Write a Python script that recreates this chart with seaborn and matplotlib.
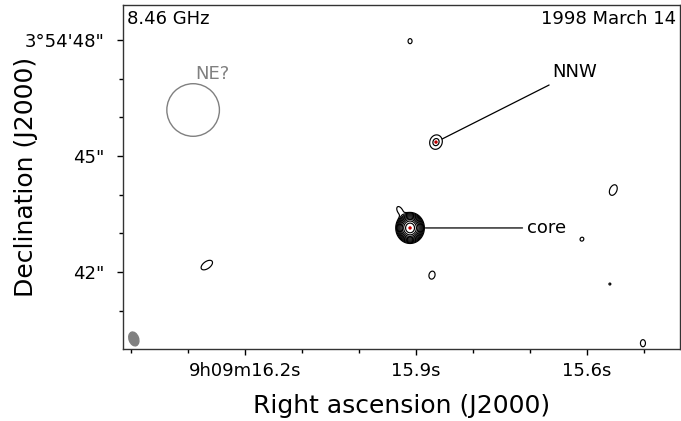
import numpy as np
import matplotlib
matplotlib.use("Agg")
import matplotlib.pyplot as plt
from matplotlib.patches import Ellipse
import seaborn as sns

# map components: RA seconds after 9h09m, Dec arcsec after 3d54m
comp_ra = [15.9105, 15.928, 15.865, 15.9105, 15.554, 15.609, 15.560, 15.502, 15.872, 16.267]
comp_dec = [43.14, 43.58, 45.36, 47.97, 44.12, 42.85, 41.69, 40.16, 41.92, 42.18]
comp_peak = [1000, 1.5, 2.5, 1.15, 1.3, 1.15, 1.05, 1.2, 1.25, 1.3]
comp_smaj = [0.108, 0.14, 0.14, 0.124, 0.20, 0.10, 0.085, 0.152, 0.157, 0.236]
comp_smin = [0.101, 0.075, 0.12, 0.10, 0.127, 0.09, 0.085, 0.109, 0.118, 0.127]
comp_pa = [0, 31, -20, 0, -25, -40, 0, 0, -15, -55]
levels = [1, 2, 4, 8, 16, 32, 64, 128, 256, 512]

# peaks marked in red
peak_ra = [15.9105, 15.865]
peak_dec = [43.14, 45.36]

# restoring beam and the NE? region
beam = dict(ra=16.395, dec=40.27, major=0.37, minor=0.25, pa=-20)
ne_ra, ne_dec, ne_radius = 16.291, 46.19, 0.68

ra_ticks = [16.2, 15.9, 15.6]
ra_labels = ["9h09m16.2s", "15.9s", "15.6s"]
dec_ticks = [48, 45, 42]
dec_labels = ["3°54'48\"", "45\"", "42\""]

RA0 = 15.9
SCALE = 15 * np.cos(np.radians(3 + 54 / 60))


def to_x(ra):
    return (np.asarray(ra) - RA0) * SCALE


sns.set_theme(style="ticks")
plt.rcParams["font.family"] = ["DejaVu Sans"]
plt.rcParams.update({"text.color": "black", "axes.labelcolor": "black",
                     "xtick.color": "black", "ytick.color": "black"})

fig = plt.figure(figsize=(6.81, 4.21), dpi=100)
ax = fig.add_axes([123 / 681, 72 / 421, 557 / 681, 344 / 421])

# build the map from the components
xs = np.linspace(to_x(16.414), to_x(15.437), 1000)
ys = np.linspace(40.01, 48.905, 620)
X, Y = np.meshgrid(xs, ys)
img = np.zeros_like(X)
for ra, dec, pk, a, b, pa in zip(comp_ra, comp_dec, comp_peak, comp_smaj, comp_smin, comp_pa):
    dx = X - to_x(ra)
    dy = Y - dec
    t = np.radians(pa)
    u = dx * np.sin(t) + dy * np.cos(t)
    v = dx * np.cos(t) - dy * np.sin(t)
    img += pk * np.exp(-0.5 * ((u / a) ** 2 + (v / b) ** 2))

ax.contour(X, Y, img, levels=levels, colors="black", linewidths=0.85)

sns.scatterplot(x=to_x(peak_ra), y=peak_dec, color="#c00000", s=6,
                edgecolor="none", ax=ax, zorder=5)

# beam
ax.add_patch(Ellipse((to_x(beam["ra"]), beam["dec"]), beam["minor"], beam["major"],
                     angle=beam["pa"], facecolor="gray", edgecolor="gray"))
# NE? circle
ax.add_patch(Ellipse((to_x(ne_ra), ne_dec), 2 * ne_radius * 38.67 / 38.1, 2 * ne_radius,
                     facecolor="none", edgecolor="gray", lw=1))
ax.text(to_x(16.288), 47.12, "NE?", color="gray", fontsize=13, ha="left", va="center")

ax.annotate("NNW", xy=(to_x(peak_ra[1]), peak_dec[1]), xytext=(to_x(15.661), 47.17),
            fontsize=13, ha="left", va="center",
            arrowprops=dict(arrowstyle="-", color="black", lw=0.9, shrinkA=1, shrinkB=5))
ax.annotate("core", xy=(to_x(peak_ra[0]), peak_dec[0]), xytext=(to_x(15.705), 43.14),
            fontsize=13, ha="left", va="center",
            arrowprops=dict(arrowstyle="-", color="black", lw=0.9, shrinkA=1, shrinkB=11))

ax.text(0.008, 0.985, "8.46 GHz", transform=ax.transAxes, fontsize=13, ha="left", va="top")
ax.text(0.993, 0.985, "1998 March 14", transform=ax.transAxes, fontsize=13, ha="right", va="top")

ax.set_xlim(to_x(16.414), to_x(15.437))
ax.set_ylim(40.01, 48.905)

ax.set_xticks(to_x(ra_ticks))
ax.set_xticklabels(ra_labels, fontsize=13)
ax.set_xticks(to_x(np.round(np.arange(15.5, 16.45, 0.1), 1)), minor=True)
ax.set_yticks(dec_ticks)
ax.set_yticklabels(dec_labels, fontsize=13)
ax.set_yticks(np.arange(41, 49), minor=True)
ax.tick_params(which="major", length=4.5, width=1, direction="out", pad=5)
ax.tick_params(which="minor", length=3, width=1, direction="out")
ax.tick_params(axis="y", which="major", pad=9)

ax.set_xlabel("Right ascension (J2000)", fontsize=18, labelpad=10)
ax.set_ylabel("Declination (J2000)", fontsize=18)
ax.yaxis.set_label_coords(-0.153, 0.5)

for s in ax.spines.values():
    s.set_color("#333333")
    s.set_linewidth(1)

fig.savefig("out.png", dpi=100)
